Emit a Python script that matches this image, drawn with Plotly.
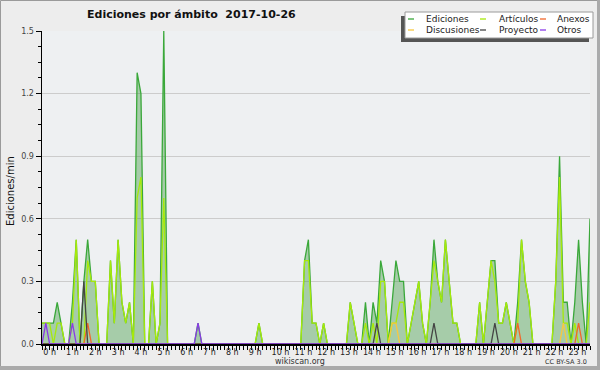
import plotly.graph_objects as go

# 10-minute steps, x in hours (0 .. 24)
hours = [i / 6 for i in range(145)]

ediciones = [
    .1, .1, .1, .1, .2, .1, 0, 0, .2, .5, 0, .3,
    .5, .3, .3, 0, 0, 0, .4, .1, .5, .2, .1, .2,
    0, 1.3, 1.2, 0, 0, .3, 0, .1, 1.5, 0, 0, 0,
    0, 0, 0, 0, 0, .1, 0, 0, 0, 0, 0, 0,
    0, 0, 0, 0, 0, 0, 0, 0, 0, .1, 0, 0,
    0, 0, 0, 0, 0, 0, 0, 0, 0, .4, .5, .1,
    .1, 0, .1, 0, 0, 0, 0, 0, 0, .2, .1, 0,
    0, .2, 0, .2, .1, .4, .3, 0, .2, .4, .3, .3,
    0, .1, .2, .3, .1, 0, .2, .5, .3, .2, .5, .3,
    .1, .1, 0, 0, 0, 0, 0, .2, 0, .2, .4, .4,
    .1, .1, .2, .1, 0, .2, .5, .3, .2, 0, 0, 0,
    0, 0, 0, .3, .9, .2, .2, 0, .2, .5, .2, 0,
    .6,
]
articulos = [
    .1, .1, .1, 0, .1, .1, 0, 0, .1, .5, 0, 0,
    .4, .3, .3, 0, 0, 0, .4, .1, .5, .2, .1, .2,
    0, .7, .8, 0, 0, .3, 0, .1, .7, 0, 0, 0,
    0, 0, 0, 0, 0, 0, 0, 0, 0, 0, 0, 0,
    0, 0, 0, 0, 0, 0, 0, 0, 0, .1, 0, 0,
    0, 0, 0, 0, 0, 0, 0, 0, 0, .4, .4, .1,
    .1, 0, .1, 0, 0, 0, 0, 0, 0, .2, .1, 0,
    0, .1, 0, .1, 0, .3, .3, 0, .1, .1, .2, .2,
    0, .1, .2, .3, .1, 0, .2, .4, .3, .2, .5, .3,
    .1, .1, 0, 0, 0, 0, 0, .2, 0, .2, .4, .3,
    .1, .1, .2, .1, 0, .1, .5, .3, .2, 0, 0, 0,
    0, 0, 0, .3, .8, .1, .1, 0, .1, 0, 0, 0,
    .2,
]
anexos = [
    0, 0, 0, 0, 0, 0, 0, 0, 0, 0, 0, 0,
    .1, 0, 0, 0, 0, 0, 0, 0, 0, 0, 0, 0,
    0, 0, 0, 0, 0, 0, 0, 0, 0, 0, 0, 0,
    0, 0, 0, 0, 0, 0, 0, 0, 0, 0, 0, 0,
    0, 0, 0, 0, 0, 0, 0, 0, 0, 0, 0, 0,
    0, 0, 0, 0, 0, 0, 0, 0, 0, 0, 0, 0,
    0, 0, 0, 0, 0, 0, 0, 0, 0, 0, 0, 0,
    0, 0, 0, 0, 0, 0, 0, 0, 0, 0, 0, 0,
    0, 0, 0, 0, 0, 0, 0, 0, 0, 0, 0, 0,
    0, 0, 0, 0, 0, 0, 0, 0, 0, 0, 0, 0,
    0, 0, 0, 0, 0, .1, 0, 0, 0, 0, 0, 0,
    0, 0, 0, 0, 0, 0, 0, 0, 0, .1, 0, 0,
    0,
]
discusiones = [
    0, 0, 0, 0, 0, 0, 0, 0, 0, 0, 0, 0,
    0, 0, 0, 0, 0, 0, 0, 0, 0, 0, 0, 0,
    0, 0, 0, 0, 0, 0, 0, 0, 0, 0, 0, 0,
    0, 0, 0, 0, 0, 0, 0, 0, 0, 0, 0, 0,
    0, 0, 0, 0, 0, 0, 0, 0, 0, 0, 0, 0,
    0, 0, 0, 0, 0, 0, 0, 0, 0, 0, 0, 0,
    0, 0, 0, 0, 0, 0, 0, 0, 0, 0, 0, 0,
    0, 0, 0, 0, 0, 0, 0, 0, .1, .1, 0, 0,
    0, 0, 0, 0, 0, 0, 0, 0, 0, 0, 0, 0,
    0, 0, 0, 0, 0, 0, 0, 0, 0, 0, 0, 0,
    0, 0, 0, 0, 0, 0, 0, 0, 0, 0, 0, 0,
    0, 0, 0, 0, 0, .1, 0, 0, 0, 0, 0, 0,
    0,
]
proyecto = [
    0, 0, 0, 0, 0, 0, 0, 0, 0, 0, 0, .3,
    0, 0, 0, 0, 0, 0, 0, 0, 0, 0, 0, 0,
    0, 0, 0, 0, 0, 0, 0, 0, 0, 0, 0, 0,
    0, 0, 0, 0, 0, 0, 0, 0, 0, 0, 0, 0,
    0, 0, 0, 0, 0, 0, 0, 0, 0, 0, 0, 0,
    0, 0, 0, 0, 0, 0, 0, 0, 0, 0, 0, 0,
    0, 0, 0, 0, 0, 0, 0, 0, 0, 0, 0, 0,
    0, 0, 0, 0, .1, 0, 0, 0, 0, 0, 0, 0,
    0, 0, 0, 0, 0, 0, 0, .1, 0, 0, 0, 0,
    0, 0, 0, 0, 0, 0, 0, 0, 0, 0, 0, .1,
    0, 0, 0, 0, 0, 0, 0, 0, 0, 0, 0, 0,
    0, 0, 0, 0, 0, 0, 0, 0, 0, 0, 0, 0,
    0,
]
otros = [
    0, .1, 0, 0, 0, 0, 0, 0, .1, 0, 0, 0,
    0, 0, 0, 0, 0, 0, 0, 0, 0, 0, 0, 0,
    0, 0, 0, 0, 0, 0, 0, 0, 0, 0, 0, 0,
    0, 0, 0, 0, 0, .1, 0, 0, 0, 0, 0, 0,
    0, 0, 0, 0, 0, 0, 0, 0, 0, 0, 0, 0,
    0, 0, 0, 0, 0, 0, 0, 0, 0, 0, 0, 0,
    0, 0, 0, 0, 0, 0, 0, 0, 0, 0, 0, 0,
    0, 0, 0, 0, 0, 0, 0, 0, 0, 0, 0, 0,
    0, 0, 0, 0, 0, 0, 0, 0, 0, 0, 0, 0,
    0, 0, 0, 0, 0, 0, 0, 0, 0, 0, 0, 0,
    0, 0, 0, 0, 0, 0, 0, 0, 0, 0, 0, 0,
    0, 0, 0, 0, 0, 0, 0, 0, 0, 0, 0, 0,
    0,
]

tick_hours = list(range(24))
tick_labels = [f"{h} h" for h in tick_hours]
y_ticks = [0, 0.3, 0.6, 0.9, 1.2, 1.5]
y_labels = ["0.0", "0.3", "0.6", "0.9", "1.2", "1.5"]

series = [
    ("Ediciones", ediciones, "#3aa83a"),
    ("Artículos", articulos, "#a6ea0a"),
    ("Anexos", anexos, "#f2662a"),
    ("Discusiones", discusiones, "#f8c840"),
    ("Proyecto", proyecto, "#444444"),
    ("Otros", otros, "#8a3ae8"),
]

FONT = "DejaVu Sans"
L, R, T, B = 42, 10, 31, 26
W, H = 600, 370
PW, PH = W - L - R, H - T - B


def px(x):
    return (x - L) / PW


def py(y):
    return (H - B - y) / PH


fig = go.Figure()
for k, (name, vals, col) in enumerate(series):
    fig.add_trace(go.Scatter(
        x=hours, y=vals, mode="lines", name=name,
        line=dict(color=col, width=1.3),
        fill="tozeroy" if k == 0 else None,
        fillcolor="rgba(40,140,40,0.36)" if k == 0 else None,
        showlegend=False, hoverinfo="skip",
    ))

shapes = []
annotations = []

# outer frame
shapes.append(dict(type="rect", xref="paper", yref="paper",
                   x0=px(0.5), x1=px(599.5), y0=py(369.5), y1=py(0.5),
                   line=dict(color="#9a9a9a", width=1), layer="below"))
shapes.append(dict(type="rect", xref="paper", yref="paper",
                   x0=px(597), x1=px(600), y0=py(370), y1=py(0),
                   fillcolor="#aaaaaa", line=dict(width=0)))
shapes.append(dict(type="rect", xref="paper", yref="paper",
                   x0=px(0), x1=px(600), y0=py(370), y1=py(366),
                   fillcolor="#aaaaaa", line=dict(width=0)))

# legend box with shadow
shapes.append(dict(type="rect", xref="paper", yref="paper",
                   x0=px(401), x1=px(589), y0=py(42), y1=py(16),
                   fillcolor="#555555", line=dict(width=0)))
shapes.append(dict(type="rect", xref="paper", yref="paper",
                   x0=px(405), x1=px(593), y0=py(38), y1=py(12),
                   fillcolor="#ffffff", line=dict(color="#9a9a9a", width=1)))
leg_pos = [(408, 424, 19), (480, 497, 19), (540, 555, 19),
           (408, 424, 30), (480, 497, 30), (540, 555, 30)]
for (name, vals, col), (lx, tx, ly) in zip(series, leg_pos):
    shapes.append(dict(type="line", xref="paper", yref="paper",
                       x0=px(lx), x1=px(lx + 6), y0=py(ly), y1=py(ly),
                       line=dict(color=col, width=1.3)))
    annotations.append(dict(xref="paper", yref="paper", x=px(tx), y=py(ly),
                            xanchor="left", yanchor="middle", showarrow=False,
                            text=name, font=dict(family=FONT, size=9, color="#222222")))

# title
annotations.append(dict(xref="paper", yref="paper", x=px(85), y=py(14),
                        xanchor="left", yanchor="middle", showarrow=False,
                        text="<b>Ediciones por ámbito  2017-10-26</b>",
                        font=dict(family=FONT, size=11, color="#111111")))
# y title
annotations.append(dict(xref="paper", yref="paper", x=px(10), y=py(191),
                        xanchor="center", yanchor="middle", showarrow=False,
                        textangle=-90, text="Ediciones/min",
                        font=dict(family=FONT, size=10, color="#111111")))
# footer
annotations.append(dict(xref="paper", yref="paper", x=px(300), y=py(361),
                        xanchor="center", yanchor="middle", showarrow=False,
                        text="wikiscan.org",
                        font=dict(family=FONT, size=8, color="#333333")))
annotations.append(dict(xref="paper", yref="paper", x=px(589), y=py(362),
                        xanchor="right", yanchor="middle", showarrow=False,
                        text="CC BY-SA 3.0",
                        font=dict(family=FONT, size=6.5, color="#333333")))

fig.update_layout(
    width=W, height=H,
    margin=dict(l=L, r=R, t=T, b=B, pad=0),
    paper_bgcolor="#ededed", plot_bgcolor="#eef0f2",
    font=dict(family=FONT, size=8, color="#333333"),
    shapes=shapes, annotations=annotations,
    showlegend=False,
)
fig.update_xaxes(
    range=[0, 24], tickmode="array", tickvals=tick_hours, ticktext=tick_labels,
    ticks="outside", ticklen=4, tickwidth=1, tickcolor="#000000",
    ticklabelposition="outside right", tickangle=0, automargin=False,
    showline=True, linecolor="#000000", linewidth=1.5,
    showgrid=False, zeroline=False,
    tickfont=dict(family=FONT, size=8, color="#222222"),
    minor=dict(dtick=1 / 6, ticks="outside", ticklen=4, tickcolor="#000000", showgrid=False),
)
fig.update_yaxes(
    range=[0, 1.5], tickmode="array", tickvals=y_ticks, ticktext=y_labels,
    ticks="outside", ticklen=5, tickwidth=1, tickcolor="#000000", automargin=False,
    showline=True, linecolor="#000000", linewidth=1.5,
    showgrid=True, gridcolor="#cccccc", gridwidth=1, zeroline=False,
    tickfont=dict(family=FONT, size=8, color="#444444"),
    minor=dict(dtick=0.075, ticks="outside", ticklen=3, tickcolor="#000000", showgrid=False),
)

fig.write_html("out.html", config={"displayModeBar": False, "staticPlot": True},
               post_script="document.body.style.margin='0';")
